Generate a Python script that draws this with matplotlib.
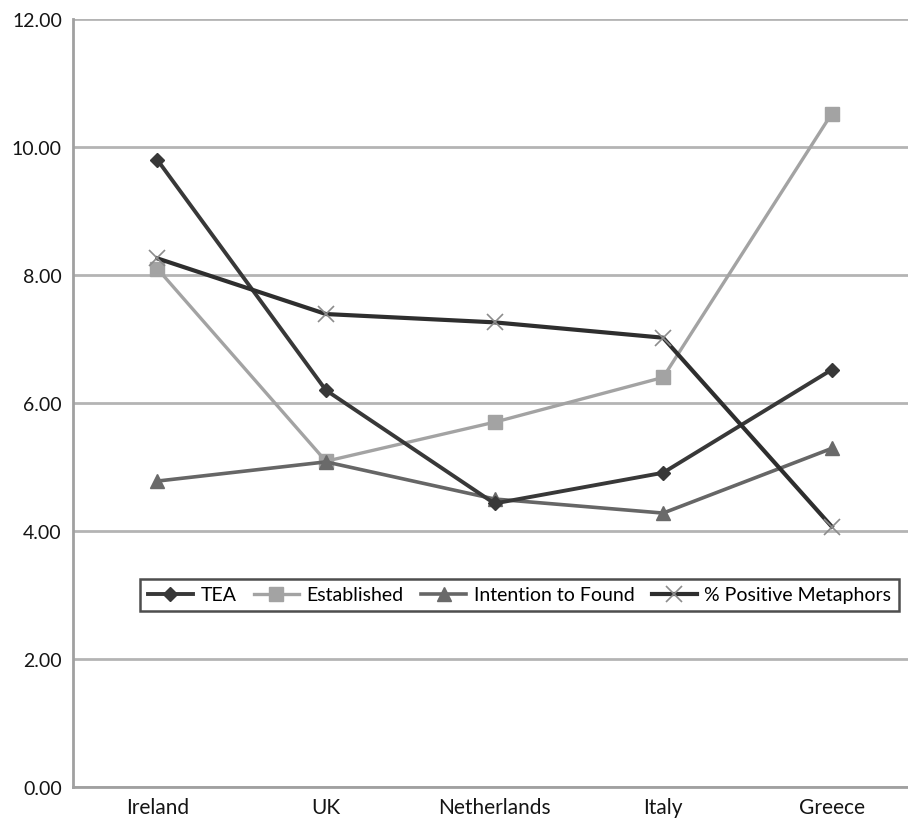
import numpy as np
import matplotlib.pyplot as plt

plt.rcParams['font.family'] = ['Lato', 'DejaVu Sans']

countries = ['Ireland', 'UK', 'Netherlands', 'Italy', 'Greece']
tea = [9.80, 6.20, 4.43, 4.91, 6.52]
established = [8.10, 5.09, 5.70, 6.40, 10.52]
intention = [4.78, 5.08, 4.50, 4.28, 5.29]
metaphors = [8.26, 7.39, 7.26, 7.02, 4.07]
yticks = [0, 2, 4, 6, 8, 10, 12]

fig = plt.figure(figsize=(9.08, 8.2), dpi=100)
# the plot area runs a little past the right edge of the figure
ax = fig.add_axes([73/908, 1-788/820, 843/908, 768/820])

x = np.arange(len(countries))
ax.plot(x, tea, color='#383838', lw=2.8, marker='D', ms=7,
        mfc='#383838', mec='#383838', label='TEA', zorder=4)
ax.plot(x, established, color='#a3a3a3', lw=2.4, marker='s', ms=10,
        mfc='#a3a3a3', mec='#a3a3a3', label='Established', zorder=3)
ax.plot(x, intention, color='#666666', lw=2.6, marker='^', ms=10,
        mfc='#6a6a6a', mec='#6a6a6a', label='Intention to Found', zorder=3)
ax.plot(x, metaphors, color='#2e2e2e', lw=3.0, marker='x', ms=12, mew=1.2,
        mec='#8c8c8c', label='% Positive Metaphors', zorder=5)

ax.set_xlim(-0.5, len(countries) - 0.5)
ax.set_ylim(0, 12)
ax.set_yticks(yticks)
ax.set_yticklabels(['%.2f' % v for v in yticks])
ax.set_xticks(x)
ax.set_xticklabels(countries)
ax.tick_params(length=0, colors='#151515')
ax.tick_params(axis='y', pad=8, labelsize=14)
ax.tick_params(axis='x', pad=7, labelsize=15)

ax.grid(axis='y', color='#b4b4b4', lw=2)
ax.set_axisbelow(True)
for s in ['top', 'right']:
    ax.spines[s].set_visible(False)
for s in ['left', 'bottom']:
    ax.spines[s].set_color('#a0a0a0')
    ax.spines[s].set_linewidth(2)

leg = ax.legend(loc='center', bbox_to_anchor=(0.53, 0.25), ncol=4,
                fontsize=14, frameon=True, fancybox=False,
                handlelength=2.3, handletextpad=0.4, columnspacing=0.9,
                borderpad=0.4)
leg.get_frame().set_edgecolor('#222222')
leg.get_frame().set_linewidth(1.8)

fig.savefig('out.png', dpi=100)
